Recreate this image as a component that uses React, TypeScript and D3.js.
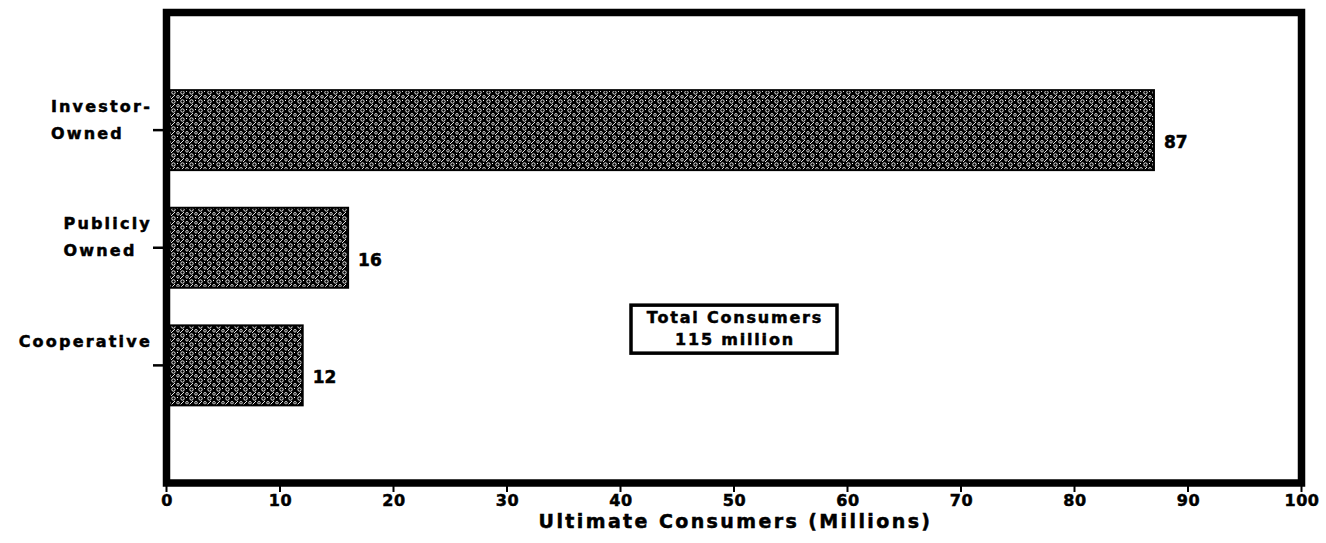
import { useLayoutEffect, useRef } from 'react';
import * as d3 from 'd3';

const CATEGORIES = ['Investor-Owned', 'Publicly Owned', 'Cooperative'];
const LABEL_LINES = [['Investor-', 'Owned'], ['Publicly', 'Owned'], ['Cooperative']];
const VALUES = [87, 16, 12];
const X_TICKS = [0, 10, 20, 30, 40, 50, 60, 70, 80, 90, 100];
const X_TITLE = 'Ultimate Consumers (Millions)';
const NOTE_LINES = ['Total Consumers', '115 million'];

const W = 1326, H = 543;
const P = { left: 166.5, right: 1301.5, top: 12.5, bottom: 483 };
const FONT = '"DejaVu Sans", Verdana, sans-serif';

export default function App() {
  const labelsRef = useRef<SVGGElement>(null);

  const x = d3.scaleLinear().domain([0, 100]).range([P.left, P.right]);
  const y = d3.scalePoint<string>().domain(CATEGORIES).range([P.top, P.bottom]).padding(1);
  const barH = y.step() * 0.68;

  // left-align multi-line labels inside a block that is right-aligned to the axis
  useLayoutEffect(() => {
    if (!labelsRef.current) return;
    d3.select(labelsRef.current).selectAll<SVGGElement, unknown>('g.cat').each(function () {
      const texts = d3.select(this).selectAll<SVGTextElement, unknown>('text');
      let maxW = 0;
      texts.each(function () { maxW = Math.max(maxW, this.getComputedTextLength()); });
      texts.attr('x', 152 - maxW);
    });
  }, []);

  const noteX = x(50);
  const noteY = P.top + (P.bottom - P.top) * 0.673;
  const heavy = { stroke: '#000', strokeWidth: 0.5 };

  return (
    <svg width={W} height={H} style={{ position: 'absolute', left: 0, top: 0, background: '#fff' }}
      fontFamily={FONT} fontWeight="bold">
      <defs>
        <pattern id="dither" width={9} height={9} patternUnits="userSpaceOnUse">
          <rect width={9} height={9} fill="#000" />
          <circle cx={2.5} cy={2.5} r={1.7} fill="none" stroke="#fff" strokeWidth={0.9} />
          <circle cx={7} cy={6.8} r={1.3} fill="none" stroke="#fff" strokeWidth={0.8} />
          <path d="M0,9 L4,5" stroke="#fff" strokeWidth={0.9} />
          <rect x={6} y={1} width={1} height={1} fill="#fff" />
        </pattern>
      </defs>

      {/* bars */}
      {CATEGORIES.map((c, i) => (
        <g key={c}>
          <rect x={x(0)} y={y(c)! - barH / 2} width={x(VALUES[i]) - x(0)} height={barH}
            fill="url(#dither)" stroke="#000" strokeWidth={2} />
          <text x={x(VALUES[i]) + 10} y={y(c)! + 13} dominantBaseline="middle" fontSize={17} {...heavy}>
            {VALUES[i]}
          </text>
        </g>
      ))}

      {/* frame */}
      <rect x={P.left} y={P.top} width={P.right - P.left} height={P.bottom - P.top}
        fill="none" stroke="#000" strokeWidth={7.5} />

      {/* category ticks and labels */}
      <g ref={labelsRef}>
        {CATEGORIES.map((c, i) => (
          <g key={c} className="cat">
            <line x1={153} x2={P.left - 3} y1={y(c)} y2={y(c)} stroke="#000" strokeWidth={2.5} />
            {LABEL_LINES[i].map((ln, j) => (
              <text key={j} x={40} y={y(c)! - 23 + j * 27} dominantBaseline="middle"
                fontSize={16} letterSpacing={2.2} {...heavy}>{ln}</text>
            ))}
          </g>
        ))}
      </g>

      {/* x axis ticks */}
      {X_TICKS.map(t => (
        <g key={t}>
          <line x1={x(t)} x2={x(t)} y1={P.bottom + 3} y2={P.bottom + 9} stroke="#000" strokeWidth={2} />
          <text x={x(t) + 0.5} y={P.bottom + 18} textAnchor="middle" dominantBaseline="middle"
            fontSize={16} letterSpacing={0.5} {...heavy}>{t}</text>
        </g>
      ))}
      <text x={(P.left + P.right) / 2 + 1.5} y={P.bottom + 39} textAnchor="middle" dominantBaseline="middle"
        fontSize={19} letterSpacing={2.4} {...heavy}>{X_TITLE}</text>

      {/* annotation box */}
      <rect x={noteX - 103} y={noteY - 24} width={206} height={48} fill="#fff" stroke="#000" strokeWidth={3.5} />
      {NOTE_LINES.map((ln, j) => (
        <text key={j} x={noteX + 1} y={noteY - 11 + j * 22} textAnchor="middle" dominantBaseline="middle"
          fontSize={16} letterSpacing={1.8} {...heavy}>{ln}</text>
      ))}
    </svg>
  );
}
